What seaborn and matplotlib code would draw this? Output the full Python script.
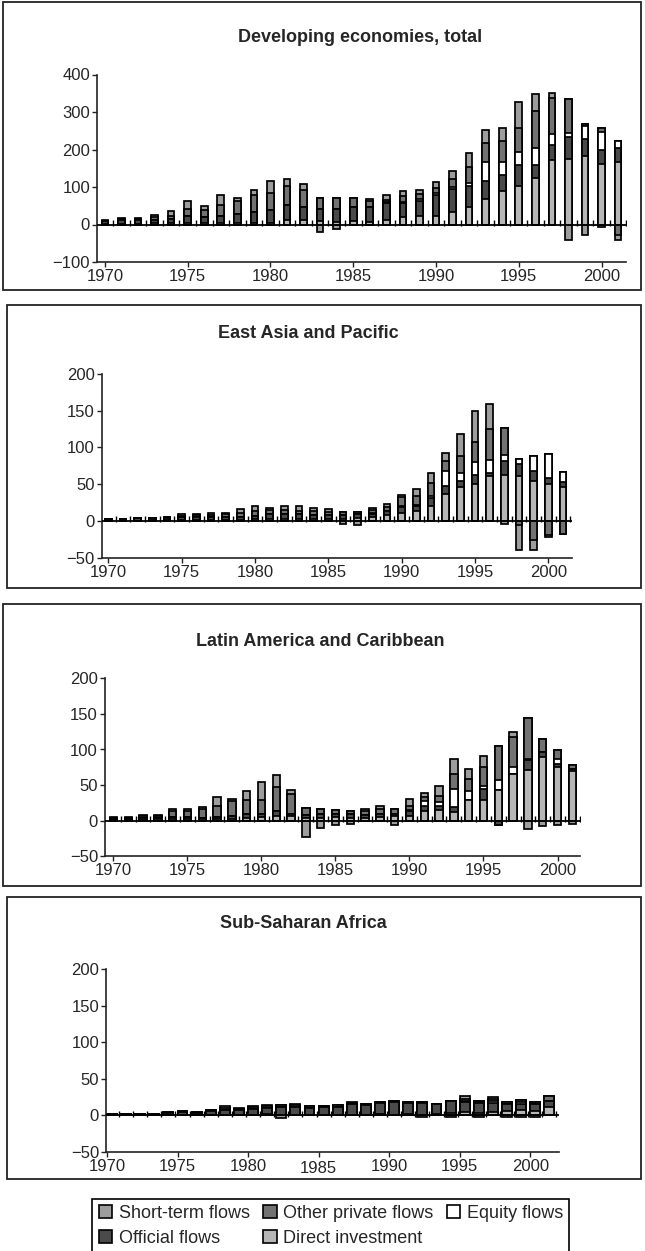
import numpy as np
import matplotlib
matplotlib.use("Agg")
import matplotlib.pyplot as plt
from matplotlib.patches import Rectangle
from matplotlib.transforms import ScaledTranslation
import seaborn as sns

years = np.arange(1970, 2002)

# Stacking order, bottom to top
series_names = ["Direct investment", "Official flows", "Equity flows",
                "Other private flows", "Short-term flows"]
series_colors = ["#b6b6b6", "#4a4a4a", "#ffffff", "#727272", "#9d9d9d"]

# Developing economies, total (US$ billions)
dev_direct = [2, 2, 2, 3, 3, 5, 3, 4, 5, 5, 5, 13, 11, 10, 8, 9, 8, 11, 20, 22,
              22, 34, 47, 67, 89, 102, 124, 172, 175, 182, 162, 167]
dev_official = [7, 10, 10, 9, 12, 19, 17, 20, 24, 28, 34, 38, 35, 32, 34, 38, 40, 47, 38, 42,
                57, 62, 55, 49, 43, 56, 34, 39, 58, 47, 36, 36]
dev_equity = [0, 0, 0, 0, 0, 0, 0, 0, 0, 0, 0, 0, 0, 0, 0, 0, 0, 1, 1, 3,
              4, 4, 8, 51, 35, 36, 46, 31, 11, 33, 49, 19]
dev_other = [1, 3, 3, 8, 9, 18, 20, 27, 35, 45, 45, 53, 47, 30, 29, 24, 14, 6, 17, 15,
             15, 22, 43, 51, 55, 64, 98, 96, 91, 7, 11, -27]
dev_short = [1, 3, 3, 6, 11, 20, 9, 29, 8, 15, 31, 18, 16, -21, -13, 0, 5, 13, 13, 11,
             15, 22, 38, 35, 36, 69, 45, 14, -40, -27, -6, -13]

# East Asia and Pacific
eap_direct = [0.5, 0.5, 0.5, 1, 1, 1, 1, 1, 1, 1, 2, 3, 3, 3, 3, 3, 3, 4, 5, 8,
              11, 13, 21, 37, 46, 50, 61, 63, 61, 55, 50, 46]
eap_official = [2, 1.5, 3, 2.5, 3, 4, 4, 4, 5, 5, 5, 6, 6, 6, 5, 5, 5, 5, 5, 5,
                8, 7, 10, 11, 8, 13, 4, 18, 16, 13, 9, 7]
eap_equity = [0, 0, 0, 0, 0, 0, 0, 0, 0, 0, 0, 0, 0, 0, 0, 0, 0, 0, 1, 1,
              2, 2, 3, 20, 11, 17, 18, 9, 8, 21, 32, 14]
eap_other = [0.5, 0, 1, 1, 1, 2, 3, 3, 3, 5, 6, 6, 6, 5, 5, 4, 4, 3, 4, 5,
             11, 12, 17, 13, 24, 27, 42, 36, -6, -26, -19, -18]
eap_short = [0, 0, 0, 0, 1, 2, 1, 3, 2, 5, 7, 3, 5, 6, 5, 4, -4, -6, 3, 4,
             4, 10, 14, 12, 30, 42, 34, -4, -34, -14, -3, 0]

# Latin America and Caribbean
lac_direct = [1, 1, 1, 2, 2, 2, 2, 2, 3, 4, 5, 7, 6, 4, 4, 5, 4, 4, 5, 6,
              7, 14, 15, 12, 29, 29, 43, 66, 71, 89, 75, 70]
lac_official = [2, 2, 3, 2, 3, 3, 2, 3, 3, 5, 5, 7, 4, 4, 5, 5, 5, 4, 5, 4,
                7, 7, 5, 7, 0, 15, -6, 0, 14, 8, 5, 3]
lac_equity = [0, 0, 0, 0, 0, 0, 0, 0, 0, 0, 0, 0, 0, 0, 0, 0, 0, 0, 0, 0,
              1, 6, 6, 25, 13, 5, 14, 9, 2, 0, 7, 0]
lac_other = [1, 1, 3, 3, 8, 9, 13, 15, 22, 20, 19, 34, 27, 10, 7, 5, 4, 5, 6, 6,
             6, 6, 9, 22, 17, 27, 48, 42, 57, 18, 12, 5]
lac_short = [0.7, 0.7, 1.4, 1.4, 4, 3, 2, 13, 3, 13, 25, 16, 6, -22.5, -10, -6, -4, 4, 5, -6,
             10, 6, 14, 21, 13, 15, 0, 8, -11, -8, -6, -4]

# Sub-Saharan Africa
ssa_direct = [0.5, 0.5, 0.5, 0.5, 0.5, 1, 0.5, 1, 1, 1, 1, 1.5, 1, 1, 0.5, 1, 1, 1, 1, 2,
              1, 2, 1, 2, 3, 4, 3, 4, 6, 7, 6, 11]
ssa_official = [1.5, 1.5, 1.5, 1.5, 2.5, 4, 2.5, 5, 7, 7, 8, 9, 10, 10, 10, 10, 11, 14, 13, 15,
                17, 15, 16, 13, 16, 14, 14, 13, 10, 9, 10, 9]
ssa_equity = [0, 0, 0, 0, 0, 0, 0, 0, 0, 0, 0, 0, 0, 0, 0, 0, 0, 0, 0, 0,
              0, 0, 0, 0, 0, 1, 1, 3, 0, 2, 0, 0]
ssa_other = [0.3, 0.3, 0.3, 0.3, 1, 1.4, 1, 1.8, 2, 1, 2, 2, 2.8, 3, 1.9, 1.4, 1.8, 1.3, 2, 1.3,
             2, 1.3, 1.3, 1, 1, 4, 2, 3, 2.3, 3.5, 2.3, 6]
ssa_short = [0, 0, 0, 0, 0, 0, 0, 0, 2.4, 1, 1.4, 1.3, -3.7, 2, 0, 0, 0, 2, 0, 0,
             0, 0, -2.8, 0, -2.8, 3, -2.8, 2, -2.8, -2.8, -2.8, 0]

x_ticks = [1970, 1975, 1980, 1985, 1990, 1995, 2000]

sns.set_theme(style="ticks")
plt.rcParams["font.family"] = ["Liberation Sans", "DejaVu Sans"]
plt.rcParams["axes.unicode_minus"] = True

W, H = 645, 1251
fig = plt.figure(figsize=(W / 100, H / 100), dpi=100)


def px_rect(x0, y0, x1, y1):
    return [x0 / W, 1 - y1 / H, (x1 - x0) / W, (y1 - y0) / H]


panels = [
    dict(title="Developing economies, total",
         data=[dev_direct, dev_official, dev_equity, dev_other, dev_short],
         axes=(97, 74.5, 626, 262), xlim=(1969.52, 2001.48), ylim=(-100, 400),
         yticks=[-100, 0, 100, 200, 300, 400], offset=0.0, width=0.4,
         title_xy=(360, 37), box=(3, 2, 641, 290)),
    dict(title="East Asia and Pacific",
         data=[eap_direct, eap_official, eap_equity, eap_other, eap_short],
         axes=(101.7, 374, 571.7, 557.7), xlim=(1969.55, 2001.59), ylim=(-50, 200),
         yticks=[-50, 0, 50, 100, 150, 200], offset=0.0, width=0.46,
         title_xy=(308, 333), box=(7, 305, 641, 588)),
    dict(title="Latin America and Caribbean",
         data=[lac_direct, lac_official, lac_equity, lac_other, lac_short],
         axes=(104.9, 678.3, 580, 856.3), xlim=(1969.42, 2001.52), ylim=(-50, 200),
         yticks=[-50, 0, 50, 100, 150, 200], offset=0.0, width=0.5,
         title_xy=(320, 642), box=(3, 604, 641, 886)),
    dict(title="Sub-Saharan Africa",
         data=[ssa_direct, ssa_official, ssa_equity, ssa_other, ssa_short],
         axes=(106, 969, 558.6, 1152), xlim=(1969.93, 2002.0), ylim=(-50, 200),
         yticks=[-50, 0, 50, 100, 150, 200], offset=0.35, width=0.7,
         title_xy=(303, 923), box=(7, 897, 641, 1179)),
]

for p in panels:
    # panel frame
    bx0, by0, bx1, by1 = p["box"]
    fig.patches.append(Rectangle((bx0 / W, 1 - by1 / H), (bx1 - bx0) / W, (by1 - by0) / H,
                                 transform=fig.transFigure, fill=False,
                                 edgecolor="#222222", linewidth=1.3))
    fig.text(p["title_xy"][0] / W, 1 - p["title_xy"][1] / H, p["title"],
             ha="center", va="center", fontsize=13, fontweight="bold")

    ax = fig.add_axes(px_rect(*p["axes"]))
    xs = years + p["offset"]

    # cumulative levels for positive and negative stacks
    pos = np.zeros(len(years))
    neg = np.zeros(len(years))
    pos_levels, neg_levels = [], []
    for vals in p["data"]:
        v = np.asarray(vals, dtype=float)
        pos = pos + np.clip(v, 0, None)
        neg = neg + np.clip(v, None, 0)
        pos_levels.append(pos.copy())
        neg_levels.append(neg.copy())

    for levels in (pos_levels, neg_levels):
        for k in range(len(levels) - 1, -1, -1):
            sns.barplot(x=xs, y=levels[k], native_scale=True, color=series_colors[k],
                        saturation=1, width=p["width"], edgecolor="black",
                        linewidth=1.25, errorbar=None, ax=ax, zorder=2)

    ax.axhline(0, color="black", linewidth=1.3, zorder=4)
    # small tick marks on the zero line between bars
    tick_off = ScaledTranslation(0, 1.5 / 100, fig.dpi_scale_trans)
    ax.plot(xs + 0.5, np.zeros(len(years)), ls="none", marker="|", ms=5,
            mew=1.0, color="black", zorder=4, transform=ax.transData + tick_off)

    ax.set_xlim(*p["xlim"])
    ax.set_ylim(*p["ylim"])
    ax.set_xticks(x_ticks)
    ax.set_xticklabels([str(t) for t in x_ticks])
    ax.set_yticks(p["yticks"])
    ax.set_xlabel("")
    ax.set_ylabel("")
    for side in ("top", "right"):
        ax.spines[side].set_visible(False)
    for side in ("left", "bottom"):
        ax.spines[side].set_color("#222222")
        ax.spines[side].set_linewidth(1.2)
    ax.tick_params(axis="both", labelsize=12, length=3.5, width=1.0, color="#222222",
                   pad=1.5, direction="out")
    ax.set_facecolor("none")

    if p["title"] == "Sub-Saharan Africa":
        for lbl in ax.get_xticklabels():
            if lbl.get_text() == "1985":
                lbl.set_transform(lbl.get_transform()
                                  + ScaledTranslation(0, -2.5 / 100, fig.dpi_scale_trans))

# legend
order = ["Short-term flows", "Official flows", "Other private flows",
         "Direct investment", "Equity flows"]
handles = [Rectangle((0, 0), 1, 1, facecolor=series_colors[series_names.index(n)],
                     edgecolor="black", linewidth=1.2) for n in order]
leg = fig.legend(handles, order, ncol=3, loc="lower center",
                 bbox_to_anchor=(0.513, -0.002), frameon=True, fancybox=False,
                 edgecolor="black", framealpha=1, fontsize=13,
                 handlelength=0.75, handleheight=0.75, handletextpad=0.35,
                 columnspacing=0.75, borderpad=0.35, labelspacing=0.45,
                 borderaxespad=0)
leg.get_frame().set_linewidth(1.2)

fig.savefig("out.png", dpi=100)
